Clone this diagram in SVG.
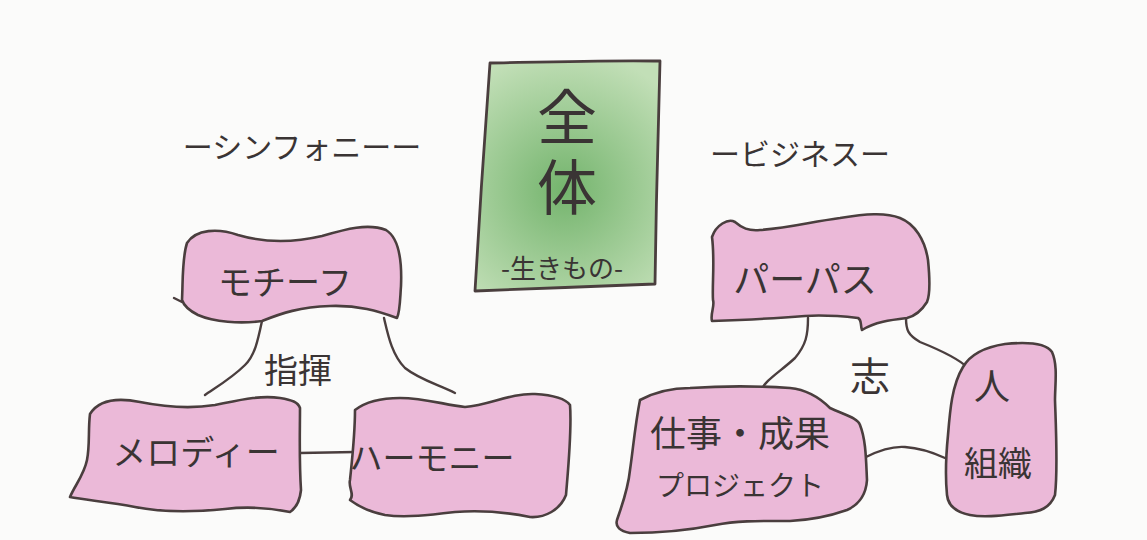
<svg xmlns="http://www.w3.org/2000/svg" width="1147" height="540" viewBox="0 0 1147 540">
<style>
.blob{fill:#ebb9d8;stroke:#4a3e3e;stroke-width:2.6;stroke-linejoin:round;stroke-linecap:round}
.con{fill:none;stroke:#4a3e3e;stroke-width:2.4;stroke-linecap:round}
.t{font-family:"Noto Sans CJK JP","Noto Sans CJK SC",sans-serif;fill:#3a3434;text-anchor:middle;dominant-baseline:central}
</style>
<defs>
<radialGradient id="g" cx="565" cy="190" r="140" gradientUnits="userSpaceOnUse">
<stop offset="0" stop-color="#74b46d"/>
<stop offset="1" stop-color="#c2dfb7"/>
</radialGradient>
</defs>
<rect width="1147" height="540" fill="#fbfbfa"/>

<g id="connectors">
<path class="con" d="M262,321 C258,340 255,355 245,365 C232,378 215,388 205,395"/>
<path class="con" d="M384,318 C388,335 392,355 405,368 C420,380 440,385 455,393"/>
<path class="con" d="M300,453 L355,452"/>
<path class="con" d="M808,318 C808,335 806,345 795,358 C780,372 765,380 760,392"/>
<path class="con" d="M906,318 C906,330 908,335 920,342 C940,350 960,360 968,368"/>
<path class="con" d="M866,457 C880,450 892,446 905,447 C920,448 932,452 945,458"/>
</g>

<g id="zentai">
<path d="M490,63 C540,62 610,60 660,61 C658,130 656,210 655,284 C600,286 530,289 475,291 C479,220 485,130 490,63 Z" fill="url(#g)" stroke="#4a3e3e" stroke-width="2.8" stroke-linejoin="round"/>
<text class="t" x="567" y="157" font-size="60" writing-mode="vertical-rl" letter-spacing="10">全体</text>
<text class="t" x="562" y="266" font-size="26">-生きもの-</text>
</g>

<g id="symphony-label">
<text class="t" x="302" y="145" font-size="30">ーシンフォニーー</text>
</g>
<g id="business-label">
<text class="t" x="800" y="152" font-size="30">ービジネスー</text>
</g>

<g id="shiki-label">
<text class="t" x="298" y="368" font-size="34">指揮</text>
</g>
<g id="kokorozashi-label">
<text class="t" x="870" y="374" font-size="40">志</text>
</g>

<g id="motif">
<path class="blob" d="M187,243 C196,229 218,228 238,235 C262,242 292,243 322,236 C346,229 368,223 386,230 C399,238 402,262 401,286 C400,300 400,312 397,318 C378,311 358,305 330,306 C300,307 282,313 262,321 C240,324 214,322 198,315 C190,311 184,306 182,300 C183,280 182,258 187,243 Z"/>
<path class="con" d="M182,302 L174,298"/>
<text class="t" x="285" y="280" font-size="34">モチーフ</text>
</g>

<g id="melody">
<path class="blob" d="M90,414 C100,398 120,398 140,402 C165,407 190,409 215,405 C240,400 260,395 280,398 C292,400 298,402 300,408 C300,430 299,460 301,490 C300,500 296,508 290,512 C270,508 250,506 225,509 C195,512 165,513 135,507 C110,502 85,500 70,497 C75,485 84,475 87,460 C90,445 88,430 90,414 Z"/>
<text class="t" x="196" y="450" font-size="34">メロディー</text>
</g>

<g id="harmony">
<path class="blob" d="M355,410 C368,400 385,398 400,398 C425,398 445,405 465,407 C490,405 510,393 535,394 C552,395 565,398 570,405 C572,430 568,470 566,495 C560,510 545,518 530,517 C505,512 480,510 455,512 C430,515 405,518 385,515 C370,512 358,506 350,500 C355,495 348,487 350,480 C352,460 355,435 355,410 Z"/>
<text class="t" x="432" y="456" font-size="33">ハーモニー</text>
</g>

<g id="purpose">
<path class="blob" d="M712,237 C716,225 728,218 735,222 C742,228 748,231 760,230 C790,228 810,222 840,218 C865,214 885,212 900,218 C915,224 925,240 928,260 C930,280 930,295 927,302 C922,310 915,316 907,318 C890,320 875,322 862,330 C860,324 862,320 858,318 C840,316 820,315 805,316 C780,318 740,320 712,321 C710,314 715,306 713,300 C712,285 715,260 712,237 Z"/>
<text class="t" x="805" y="277" font-size="36">パーパス</text>
</g>

<g id="work">
<path class="blob" d="M640,400 C655,392 670,388 690,388 C720,386 760,386 790,388 C810,390 822,400 830,408 C845,415 858,418 860,425 C866,440 866,460 867,480 C866,495 858,505 847,510 C830,516 810,520 790,521 C765,521 740,520 715,525 C690,530 660,533 630,533 C620,531 615,527 617,520 C622,505 628,490 630,470 C633,450 635,425 640,400 Z"/>
<text class="t" x="740" y="431" font-size="36">仕事・成果</text>
<text class="t" x="740" y="484" font-size="28">プロジェクト</text>
</g>

<g id="people">
<path class="blob" d="M963,367 C970,355 985,347 1005,344 C1025,342 1045,342 1052,352 C1058,365 1055,385 1055,400 C1056,430 1058,470 1055,495 C1050,508 1040,512 1025,513 C1005,515 985,518 970,515 C955,512 948,505 947,495 C945,475 946,455 948,435 C950,410 952,385 963,367 Z"/>
<text class="t" x="992" y="384" font-size="36">人</text>
<text class="t" x="998" y="461" font-size="34">組織</text>
</g>
</svg>
